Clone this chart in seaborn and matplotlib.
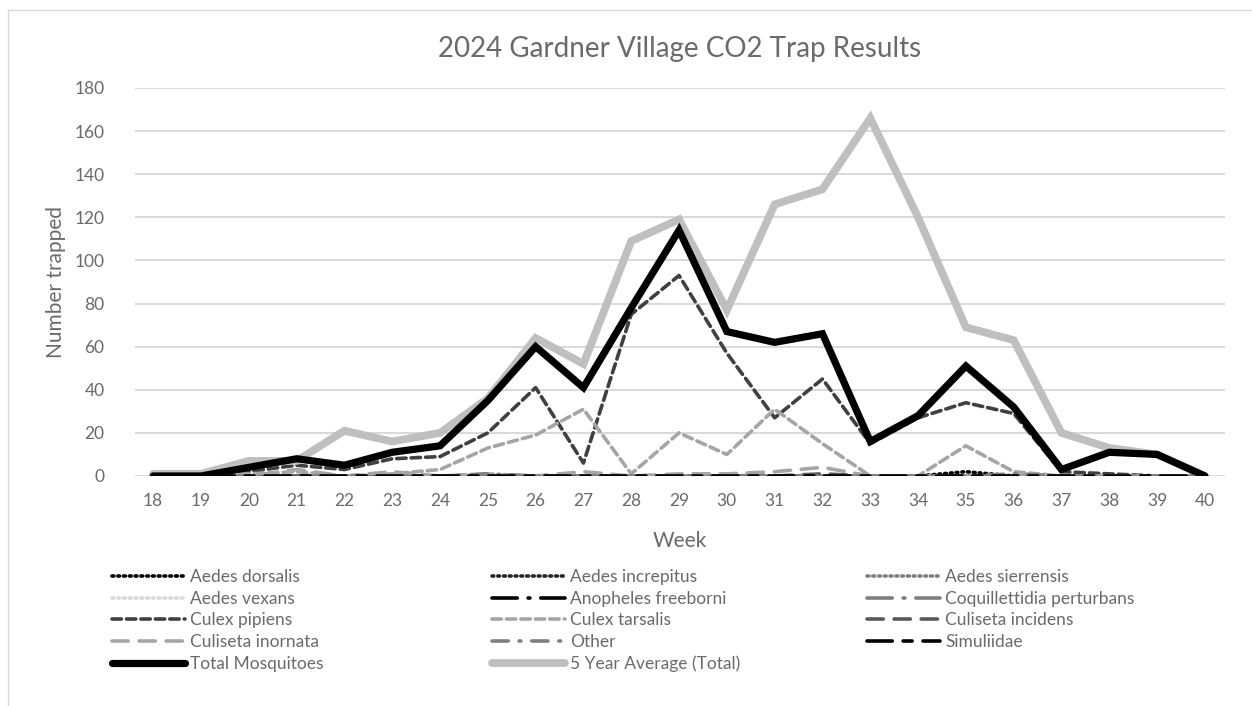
import seaborn as sns
import matplotlib.pyplot as plt
from matplotlib.patches import Rectangle

# data
weeks = list(range(18, 41))

aedes_dorsalis = [0]*17 + [2, 0, 0, 0, 0, 0]
aedes_increpitus = [0]*23
aedes_sierrensis = [0]*23
aedes_vexans = [0]*23
anopheles_freeborni = [0]*23
coquillettidia = [0]*23
culex_pipiens = [0, 0, 2, 5, 3, 8, 9, 20, 41, 6, 75, 93, 57, 27, 45, 15, 27, 34, 29, 2, 1, 0, 0]
culex_tarsalis = [0, 0, 1, 2, 0, 1, 3, 13, 19, 31, 1, 20, 10, 31, 15, 0, 0, 14, 2, 0, 0, 0, 0]
culiseta_incidens = [0]*14 + [1] + [0]*8
culiseta_inornata = [0, 0, 0, 3, 0, 2, 0, 1, 0, 2, 0, 1, 1, 2, 4, 0, 0, 0, 0, 0, 0, 0, 0]
other = [0, 0, 0, 0, 0, 0, 0, 1, 0, 0, 0, 0, 0, 0, 0, 0, 0, 0, 1, 0, 0, 0, 0]
simuliidae = [0]*23
total = [0, 0, 4, 8, 5, 11, 14, 35, 60, 41, 78, 114, 67, 62, 66, 16, 28, 51, 32, 3, 11, 10, 0]
five_year_avg = [1, 1, 7, 7, 21, 16, 20, 36, 64, 52, 109, 119, 77, 126, 133, 166, 120, 69, 63, 20, 13, 10, 0]

sns.set_style('white')
plt.rcParams['font.family'] = ['Lato', 'DejaVu Sans']
txt = '#6A6A6A'

fig = plt.figure(figsize=(12.52, 7.06), dpi=100)
ax = fig.add_axes([135/1252, 1 - 476/706, 1090/1252, 388/706])

# (label, values, color, linewidth, linestyle)
series = [
    ('Aedes dorsalis', aedes_dorsalis, '#000000', 2.6, (0, (0.5, 1.1))),
    ('Aedes increpitus', aedes_increpitus, '#262626', 2.6, (0, (0.5, 1.1))),
    ('Aedes sierrensis', aedes_sierrensis, '#7F7F7F', 2.6, (0, (0.5, 1.1))),
    ('Aedes vexans', aedes_vexans, '#D9D9D9', 2.6, (0, (0.5, 1.1))),
    ('Anopheles freeborni', anopheles_freeborni, '#000000', 2.6, (0, (7, 3, 0.5, 3))),
    ('Coquillettidia perturbans', coquillettidia, '#7F7F7F', 2.6, (0, (7, 3, 0.5, 3))),
    ('Culex pipiens', culex_pipiens, '#404040', 2.6, (0, (2.6, 1.4))),
    ('Culex tarsalis', culex_tarsalis, '#A5A5A5', 2.6, (0, (2.6, 1.4))),
    ('Culiseta incidens', culiseta_incidens, '#595959', 2.6, (0, (4.5, 3))),
    ('Culiseta inornata', culiseta_inornata, '#A5A5A5', 2.6, (0, (4.5, 3))),
    ('Other', other, '#7F7F7F', 2.6, (0, (4.5, 3, 0.5, 3))),
    ('Simuliidae', simuliidae, '#000000', 2.6, (0, (7, 3, 2.5, 3))),
    ('5 Year Average (Total)', five_year_avg, '#BFBFBF', 5.6, '-'),
    ('Total Mosquitoes', total, '#000000', 5.2, '-'),
]

for label, vals, color, lw, ls in series:
    sns.lineplot(x=weeks, y=vals, ax=ax, color=color, linewidth=lw,
                 linestyle=ls, label=label, solid_capstyle='round',
                 dash_capstyle='round', solid_joinstyle='miter')
handles = {l.get_label(): l for l in ax.get_lines()}
ax.get_legend().remove()

ax.set_xlim(17.62, 40.42)
ax.set_ylim(0, 180)
ax.set_xticks(weeks)
ax.set_yticks(range(0, 181, 20))
ax.yaxis.grid(True, color='#D9D9D9', linewidth=1.4)
ax.set_axisbelow(True)
for s in ax.spines.values():
    s.set_visible(False)
ax.tick_params(axis='both', colors=txt, labelsize=12.5, length=0)
ax.tick_params(axis='y', pad=22)
ax.tick_params(axis='x', pad=12)
ax.set_xlabel('Week', color=txt, fontsize=15, labelpad=16)
ax.set_ylabel('Number trapped', color=txt, fontsize=15, labelpad=6)
ax.set_title('2024 Gardner Village CO2 Trap Results', color=txt, fontsize=20, pad=22)

cols = [
    ['Aedes dorsalis', 'Aedes vexans', 'Culex pipiens', 'Culiseta inornata', 'Total Mosquitoes'],
    ['Aedes increpitus', 'Anopheles freeborni', 'Culex tarsalis', 'Other', '5 Year Average (Total)'],
    ['Aedes sierrensis', 'Coquillettidia perturbans', 'Culiseta incidens', 'Simuliidae'],
]
xs = [112, 492, 867]
for names, x0 in zip(cols, xs):
    fig.legend([handles[n] for n in names], names, loc='upper left',
               bbox_to_anchor=(x0/1252, 1 - 569/706), frameon=False,
               fontsize=12.5, handlelength=4.2, handletextpad=0.3,
               labelspacing=0.33, borderpad=0, borderaxespad=0,
               labelcolor=txt)

fig.patches.append(Rectangle((8/1252, -0.1), 1.2, 1.1 - 10/706, transform=fig.transFigure,
                             fill=False, edgecolor='#D9D9D9', linewidth=1))

fig.savefig('out.png', dpi=100)
